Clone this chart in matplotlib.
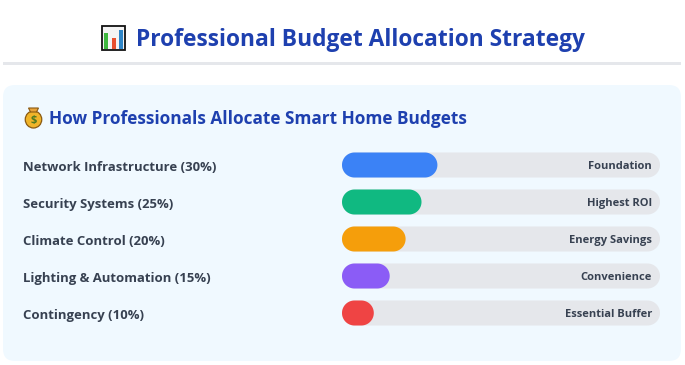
import numpy as np
import matplotlib
matplotlib.use("Agg")
import matplotlib.pyplot as plt
from matplotlib.patches import FancyBboxPatch, Rectangle, Ellipse, Polygon

W, H = 685, 365
categories = ["Network Infrastructure", "Security Systems", "Climate Control",
              "Lighting & Automation", "Contingency"]
shares = [30, 25, 20, 15, 10]
notes = ["Foundation", "Highest ROI", "Energy Savings", "Convenience", "Essential Buffer"]
colors = ["#3b82f6", "#10b981", "#f59e0b", "#8b5cf6", "#ef4444"]
title = "Professional Budget Allocation Strategy"
subtitle = "How Professionals Allocate Smart Home Budgets"

plt.rcParams["font.family"] = ["Open Sans", "DejaVu Sans"]
fig = plt.figure(figsize=(W / 100, H / 100), dpi=100, facecolor="white")

# page layer in pixel coordinates
bg = fig.add_axes([0, 0, 1, 1], zorder=0)
bg.set_xlim(0, W); bg.set_ylim(H, 0); bg.axis("off")
bg.add_patch(Rectangle((3, 62), 678, 3, fc="#e5e7eb", ec="none"))
bg.add_patch(FancyBboxPatch((3, 85), 678, 276, boxstyle="round,pad=0,rounding_size=12",
                            fc="#f0f9ff", ec="none"))
bg.text(136, 46.5, title, fontsize=16.4, fontweight="bold", color="#1e40af", va="baseline", ha="left")
bg.text(49, 124, subtitle, fontsize=12.4, fontweight="bold", color="#1e40af", va="baseline", ha="left")

# chart-icon glyph
bg.add_patch(Rectangle((102, 26), 23.5, 23.5, fc="#f4f4f4", ec="#111111", lw=1.3))
bg.add_patch(Rectangle((104.5, 33), 4, 15.5, fc="#3fb83f", ec="none"))
bg.add_patch(Rectangle((112, 37.5), 4, 11, fc="#e8502f", ec="none"))
bg.add_patch(Rectangle((119.5, 30), 4, 18.5, fc="#2f86c8", ec="none"))

# money-bag glyph
bg.add_patch(Ellipse((33.5, 119.5), 16.5, 17, fc="#f0b429", ec="#8a5a12", lw=0.9))
bg.add_patch(Polygon([(28.5, 108), (38.5, 108), (36.5, 112), (30.5, 112)], fc="#e8a33a", ec="#8a5a12", lw=0.8))
bg.text(33.5, 120, "$", fontsize=8, fontweight="bold", color="#4f7a1f", ha="center", va="center")

# row labels
row_px = [171, 208, 245, 282, 319]
for y, c, s in zip(row_px, categories, shares):
    bg.text(23, y, f"{c} ({s}%)", fontsize=9.45, fontweight="bold", color="#374151", va="baseline", ha="left")

# bars
ax_w, ax_h = 318, 185
ax = fig.add_axes([342 / W, 1 - (146.5 + ax_h) / H, ax_w / W, ax_h / H], zorder=1)
ax.set_xlim(0, 100); ax.set_ylim(len(shares) - 0.5, -0.5); ax.axis("off")
xu, yu = ax_w / 100, ax_h / len(shares)
bar_px = 25.0


def pill(row, value, fc):
    """Fully rounded bar from 0 to value on the axis scale."""
    rx, ry = (bar_px / 2) / xu, (bar_px / 2) / yu
    t = np.linspace(-np.pi / 2, np.pi / 2, 40)
    right = np.c_[value - rx + rx * np.cos(t), row + ry * np.sin(t)]
    left = np.c_[rx - rx * np.cos(t[::-1]), row + ry * np.sin(t[::-1])]
    ax.add_patch(Polygon(np.r_[right, left], closed=True, fc=fc, ec="none"))


for i, (s, col, note) in enumerate(zip(shares, colors, notes)):
    pill(i, 100, "#e5e7eb")
    pill(i, s, col)
    ax.text(100 - 8 / xu, i + 4 / yu, note, fontsize=8.05, fontweight="bold", color="#374151",
            ha="right", va="baseline")

fig.savefig("out.png", dpi=100, facecolor="white")
